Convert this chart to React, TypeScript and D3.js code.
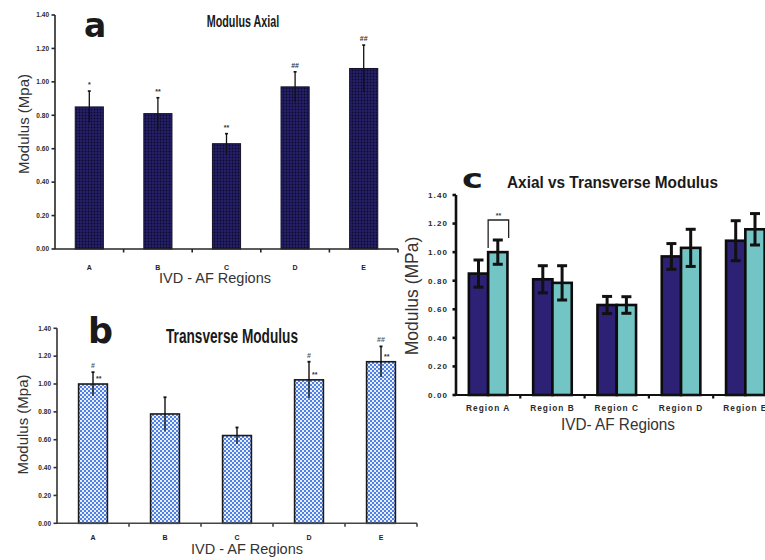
import React from 'react';
import * as d3 from 'd3';

// Annulus fibrosus regions and measured moduli (MPa)
const regions = ['A', 'B', 'C', 'D', 'E'];
const regionNames = ['Region A', 'Region B', 'Region C', 'Region D', 'Region E'];
const axialMean = [0.85, 0.81, 0.63, 0.97, 1.08];
const axialErr = [0.095, 0.095, 0.06, 0.09, 0.14];
const transMean = [1.0, 0.785, 0.63, 1.03, 1.16];
const transErr = [0.085, 0.12, 0.058, 0.13, 0.11];
// significance markers
const axialSig = ['*', '**', '**', '##', '##'];
const transSigTop = ['#', '', '', '#', '##'];
const transSigSide = ['**', '', '', '**', '**'];
const pairSig = ['**', '', '', '', ''];
const yTickValues = [0, 0.2, 0.4, 0.6, 0.8, 1.0, 1.2, 1.4];

const fmt = d3.format('.2f');
const SANS = '"Liberation Sans", Arial, Helvetica, sans-serif';
const HEAVY = '"DejaVu Sans", "Liberation Sans", sans-serif';

type YAxisProps = {
  x: number;
  y: d3.ScaleLinear<number, number>;
  fontSize: number;
  spacing: number;
  gap: number;
  color: string;
  width: number;
};

function YAxis({ x, y, fontSize, spacing, gap, color, width }: YAxisProps) {
  const [b, t] = y.range();
  return (
    <g>
      <line x1={x} x2={x} y1={b} y2={t} stroke={color} strokeWidth={width} />
      {yTickValues.map((v) => (
        <g key={v}>
          <line x1={x - 3.5} x2={x} y1={y(v)} y2={y(v)} stroke={color} strokeWidth={width} />
          <text
            x={x - gap}
            y={y(v)}
            dy="0.35em"
            textAnchor="end"
            fontSize={fontSize}
            fontWeight="bold"
            letterSpacing={spacing}
            fill="#2a2a2a"
            fontFamily={SANS}
          >
            {fmt(v)}
          </text>
        </g>
      ))}
    </g>
  );
}

type XAxisProps = {
  x: d3.ScaleBand<string>;
  y0: number;
  color: string;
  width: number;
};

function XAxis({ x, y0, color, width }: XAxisProps) {
  const [r0, r1] = x.range();
  const step = x.step();
  const bounds = d3.range(1, regions.length + 1).map((i) => r0 + step * i);
  return (
    <g>
      <line x1={r0} x2={r1} y1={y0} y2={y0} stroke={color} strokeWidth={width} />
      {bounds.map((bx) => (
        <line key={bx} x1={bx} x2={bx} y1={y0} y2={y0 + 3.5} stroke={color} strokeWidth={width} />
      ))}
    </g>
  );
}

function PanelA() {
  const x = d3.scaleBand().domain(regions).range([55, 398]).paddingInner(0.59).paddingOuter(0.295);
  const y = d3.scaleLinear().domain([0, 1.4]).range([249, 15]);
  const bw = x.bandwidth();
  return (
    <g>
      {regions.map((r, i) => {
        const cx = (x(r) as number) + bw / 2;
        const top = y(axialMean[i] + axialErr[i]);
        return (
          <g key={r}>
            <rect
              x={x(r)}
              y={y(axialMean[i])}
              width={bw}
              height={y(0) - y(axialMean[i])}
              fill="url(#navyDots)"
              stroke="#141028"
              strokeWidth={1}
            />
            <line x1={cx} x2={cx} y1={y(axialMean[i] - axialErr[i])} y2={top} stroke="#111" strokeWidth={1.3} />
            <line x1={cx - 1.5} x2={cx + 1.5} y1={top} y2={top} stroke="#111" strokeWidth={1.6} />
            <text x={cx} y={top - 4} textAnchor="middle" fontSize={7} fontWeight="bold" fill="#333" fontFamily={SANS}>
              {axialSig[i]}
            </text>
            <text x={cx} y={269.5} textAnchor="middle" fontSize={7} fontWeight="bold" fill="#222" fontFamily={SANS}>
              {r}
            </text>
          </g>
        );
      })}
      <XAxis x={x} y0={y(0)} color="#262626" width={1.6} />
      <YAxis x={55} y={y} fontSize={6.5} spacing={0} gap={6} color="#262626" width={1.6} />
      <text x={84} y={37} fontSize={33} fontWeight="bold" fill="#1a1a1a" fontFamily={HEAVY}>a</text>
      <text
        x={206.7}
        y={27}
        fontSize={16.5}
        fontWeight="bold"
        fill="#1a1a1a"
        fontFamily={SANS}
        textLength={72.6}
        lengthAdjust="spacingAndGlyphs"
      >
        Modulus Axial
      </text>
      <text
        transform="translate(23.5,124) rotate(-90)"
        textAnchor="middle"
        dominantBaseline="central"
        fontSize={15}
        fill="#333"
        fontFamily={SANS}
      >
        Modulus (Mpa)
      </text>
      <text x={215} y={283} textAnchor="middle" fontSize={14.5} fill="#333" fontFamily={SANS}>
        IVD - AF Regions
      </text>
    </g>
  );
}

function PanelB() {
  const x = d3.scaleBand().domain(regions).range([57, 417]).paddingInner(0.6).paddingOuter(0.3);
  const y = d3.scaleLinear().domain([0, 1.4]).range([523.3, 328.3]);
  const bw = x.bandwidth();
  return (
    <g>
      {regions.map((r, i) => {
        const cx = (x(r) as number) + bw / 2;
        const top = y(transMean[i] + transErr[i]);
        return (
          <g key={r}>
            <rect
              x={x(r)}
              y={y(transMean[i])}
              width={bw}
              height={y(0) - y(transMean[i])}
              fill="url(#blueChecks)"
              stroke="#1a1a1a"
              strokeWidth={1.6}
            />
            <line x1={cx} x2={cx} y1={y(transMean[i] - transErr[i])} y2={top} stroke="#111" strokeWidth={1.4} />
            <line x1={cx - 1.5} x2={cx + 1.5} y1={top} y2={top} stroke="#111" strokeWidth={1.8} />
            <text x={cx} y={top - 4} textAnchor="middle" fontSize={7} fontWeight="bold" fill="#555" fontFamily={SANS}>
              {transSigTop[i]}
            </text>
            <text x={cx + 3} y={y(transMean[i]) - 3} fontSize={7} fontWeight="bold" fill="#333" fontFamily={SANS}>
              {transSigSide[i]}
            </text>
            <text x={cx} y={539.5} textAnchor="middle" fontSize={7} fontWeight="bold" fill="#222" fontFamily={SANS}>
              {r}
            </text>
          </g>
        );
      })}
      <XAxis x={x} y0={y(0)} color="#444" width={1.6} />
      <YAxis x={57} y={y} fontSize={6.5} spacing={0} gap={6} color="#333" width={1.6} />
      <text x={88} y={343} fontSize={35} fontWeight="bold" fill="#1a1a1a" fontFamily={HEAVY}>b</text>
      <text
        x={166}
        y={343}
        fontSize={20}
        fontWeight="bold"
        fill="#1a1a1a"
        fontFamily={SANS}
        textLength={132}
        lengthAdjust="spacingAndGlyphs"
      >
        Transverse Modulus
      </text>
      <text
        transform="translate(22.5,424.5) rotate(-90)"
        textAnchor="middle"
        dominantBaseline="central"
        fontSize={15}
        fill="#333"
        fontFamily={SANS}
      >
        Modulus (Mpa)
      </text>
      <text x={247} y={554} textAnchor="middle" fontSize={14.5} fill="#333" fontFamily={SANS}>
        IVD - AF Regions
      </text>
    </g>
  );
}

function PanelC() {
  const x = d3.scaleBand().domain(regions).range([456, 777.5]).paddingInner(0.4).paddingOuter(0.2);
  const sub = d3.scaleBand().domain(['axial', 'trans']).range([0, x.bandwidth()]);
  const y = d3.scaleLinear().domain([0, 1.4]).range([395, 195]);
  const series = [
    { key: 'axial', mean: axialMean, err: axialErr, color: '#2c2175' },
    { key: 'trans', mean: transMean, err: transErr, color: '#72c5c4' },
  ];
  const sw = sub.bandwidth();
  return (
    <g>
      {regions.map((r, i) => (
        <g key={r} transform={`translate(${x(r)},0)`}>
          {series.map((s) => (
            <rect
              key={s.key}
              x={sub(s.key)}
              y={y(s.mean[i])}
              width={sw}
              height={y(0) - y(s.mean[i])}
              fill={s.color}
              stroke="#0c0c0c"
              strokeWidth={2.6}
            />
          ))}
          {series.map((s) => {
            const cx = (sub(s.key) as number) + sw / 2;
            const hi = y(s.mean[i] + s.err[i]);
            const lo = y(s.mean[i] - s.err[i]);
            return (
              <g key={s.key + 'e'} stroke="#111" strokeWidth={3}>
                <line x1={cx} x2={cx} y1={lo} y2={hi} />
                <line x1={cx - 5} x2={cx + 5} y1={hi} y2={hi} />
                <line x1={cx - 5} x2={cx + 5} y1={lo} y2={lo} />
              </g>
            );
          })}
          {pairSig[i] && (() => {
            const left = sw;
            const right = sw * 2 + 1.2;
            const topY = y(transMean[i] + transErr[i]) - 20;
            return (
              <g>
                <path
                  d={`M${left},${topY + 28} V${topY} H${right} V${topY + 18}`}
                  fill="none"
                  stroke="#222"
                  strokeWidth={1.3}
                />
                <text x={(left + right) / 2} y={topY - 2.5} textAnchor="middle" fontSize={7} fontWeight="bold" fill="#444" fontFamily={SANS}>
                  {pairSig[i]}
                </text>
              </g>
            );
          })()}
          <text
            x={x.bandwidth() / 2}
            y={410.5}
            textAnchor="middle"
            fontSize={8.3}
            fontWeight="bold"
            letterSpacing={1}
            fill="#2a2a2a"
            fontFamily={SANS}
          >
            {regionNames[i]}
          </text>
        </g>
      ))}
      <XAxis x={x} y0={y(0)} color="#111" width={2.2} />
      <YAxis x={456} y={y} fontSize={8} spacing={1.1} gap={8} color="#111" width={2.6} />
      <text
        x={462}
        y={188}
        fontSize={27}
        fontWeight="bold"
        fill="#1a1a1a"
        fontFamily={HEAVY}
        textLength={21}
        lengthAdjust="spacingAndGlyphs"
      >
        c
      </text>
      <text
        x={507}
        y={188}
        fontSize={17}
        fontWeight="bold"
        fill="#1a1a1a"
        fontFamily={SANS}
        textLength={211}
        lengthAdjust="spacingAndGlyphs"
      >
        Axial vs Transverse Modulus
      </text>
      <text
        transform="translate(412,296) rotate(-90)"
        textAnchor="middle"
        dominantBaseline="central"
        fontSize={17.5}
        fill="#333"
        fontFamily={SANS}
      >
        Modulus (MPa)
      </text>
      <text
        x={618}
        y={430}
        textAnchor="middle"
        fontSize={16.5}
        fill="#333"
        fontFamily={SANS}
        textLength={114}
        lengthAdjust="spacingAndGlyphs"
      >
        IVD- AF Regions
      </text>
    </g>
  );
}

export default function App() {
  return (
    <svg
      width={765}
      height={560}
      viewBox="0 0 765 560"
      style={{ position: 'absolute', left: 0, top: 0, display: 'block', background: '#fff' }}
    >
      <defs>
        <pattern id="navyDots" width={3} height={3} patternUnits="userSpaceOnUse">
          <rect width={3} height={3} fill="#252068" />
          <circle cx={1.5} cy={1.5} r={0.9} fill="#0c0a2c" />
        </pattern>
        <pattern id="blueChecks" width={4} height={4} patternUnits="userSpaceOnUse">
          <rect width={4} height={4} fill="#4f80e6" />
          <rect x={0} y={0} width={2} height={2} fill="#e8efff" />
          <rect x={2} y={2} width={2} height={2} fill="#e8efff" />
        </pattern>
      </defs>
      <rect width={765} height={560} fill="#fff" />
      <PanelA />
      <PanelB />
      <PanelC />
    </svg>
  );
}
